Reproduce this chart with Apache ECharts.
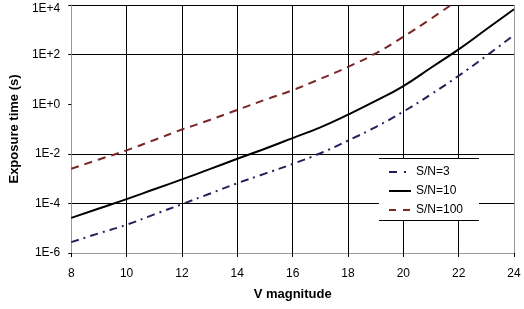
<!DOCTYPE html>
<html>
<head>
<meta charset="utf-8">
<script src="https://cdn.jsdelivr.net/npm/echarts@6/dist/echarts.min.js"></script>
<style>html,body{margin:0;padding:0;background:#fff}#c{width:524px;height:309px}</style>
</head>
<body>
<div id="c"></div>
<script>
const magnitudes = [8, 9, 10, 11, 12, 13, 14, 15, 16, 17, 18, 19, 20, 21, 22, 23, 24];
const sn3 = [2.75e-6, 6.2e-6, 1.38e-5, 3.6e-5, 9.3e-5, 2.45e-4, 6.5e-4, 1.58e-3, 3.9e-3, 1.05e-2, 3.4e-2, 0.12, 0.5, 2.5, 14, 89, 617];
const sn10 = [2.6e-5, 6.2e-5, 1.48e-4, 3.7e-4, 9.3e-4, 2.4e-3, 6.3e-3, 1.6e-2, 4.3e-2, 0.117, 0.38, 1.35, 5.4, 29.5, 162, 1050, 6760];
const sn100 = [2.5e-3, 5.9e-3, 1.38e-2, 3.6e-2, 9.5e-2, 0.23, 0.59, 1.5, 3.7, 10.5, 32, 112, 525, 2800, 16600];
const seriesNames = ['S/N=3', 'S/N=10', 'S/N=100'];
const xTicks = [8, 10, 12, 14, 16, 18, 20, 22, 24];
const yTickLabels = ['1E-6', '1E-4', '1E-2', '1E+0', '1E+2', '1E+4'];

const pairs = (vals) => vals.map((v, i) => [magnitudes[i], v]);
const font = 'Liberation Sans, Arial, sans-serif';
const colors = ['#2b1d5c', '#000000', '#7a2626'];
const dashes = [[8, 5, 2, 5], 'solid', [8, 6]];

const chart = echarts.init(document.getElementById('c'), null, {renderer: 'canvas'});
chart.setOption({
  animation: false,
  backgroundColor: '#fff',
  grid: {left: 66, right: 10, top: 5, bottom: 56, show: false},
  xAxis: {
    type: 'value', min: xTicks[0], max: xTicks[xTicks.length - 1], interval: 2,
    name: 'V magnitude', nameLocation: 'middle', nameGap: 35,
    nameTextStyle: {fontFamily: font, fontSize: 13, fontWeight: 'bold', color: '#000'},
    axisLine: {show: true, lineStyle: {color: '#999', width: 1}},
    axisTick: {show: true, length: 4, lineStyle: {color: '#000'}},
    axisLabel: {fontFamily: font, fontSize: 12, color: '#000', margin: 15},
    splitLine: {show: true, lineStyle: {color: ['rgba(0,0,0,0)', '#000', '#000', '#000', '#000', '#000', '#000', '#000', '#999'], width: 1}}
  },
  yAxis: {
    type: 'log', logBase: 10, min: 1e-6, max: 1e4, interval: 2,
    name: 'Exposure time (s)', nameLocation: 'middle', nameGap: 48, nameRotate: 90,
    nameTextStyle: {fontFamily: font, fontSize: 13, fontWeight: 'bold', color: '#000'},
    axisLine: {show: true, lineStyle: {color: '#999', width: 1}},
    axisTick: {show: true, length: 3, lineStyle: {color: '#000'}},
    axisLabel: {fontFamily: font, fontSize: 12, color: '#000', margin: 11,
      formatter: (v) => {
        const e = Math.round(Math.log10(v));
        const t = yTickLabels[(e + 6) / 2] || '';
        return e === 4 ? '{t|' + t + '}' : t;
      },
      rich: {t: {fontFamily: font, fontSize: 12, color: '#000', padding: [7, 0, 0, 0]}}
    },
    splitLine: {show: true, lineStyle: {color: ['rgba(0,0,0,0)', '#000', '#000', 'rgba(0,0,0,0)', '#000', '#000'], width: 1}}
  },
  legend: {
    show: true, orient: 'vertical', left: 379, top: 166,
    padding: [0, 10, 0, 9], itemGap: 7, itemWidth: 22, itemHeight: 13,
    textStyle: {fontFamily: font, fontSize: 12, color: '#000'},
    itemStyle: {color: 'rgba(0,0,0,0)', borderColor: 'rgba(0,0,0,0)', borderWidth: 0, opacity: 0},
    backgroundColor: 'rgba(0,0,0,0)', z: 20,
    data: [
      {name: seriesNames[0], lineStyle: {type: [8, 7, 2, 20], width: 2, color: colors[0]}},
      {name: seriesNames[1], lineStyle: {type: 'solid', width: 2, color: colors[1]}},
      {name: seriesNames[2], lineStyle: {type: [7, 7], width: 2, color: colors[2]}}
    ]
  },
  graphic: [
    {type: 'rect', shape: {x: 379, y: 158, width: 100, height: 62}, style: {fill: '#fff'}, z: 10},
    {type: 'line', shape: {x1: 379, y1: 158.5, x2: 479, y2: 158.5}, style: {stroke: '#000', lineWidth: 1}, z: 11},
    {type: 'line', shape: {x1: 379, y1: 220.5, x2: 479, y2: 220.5}, style: {stroke: '#000', lineWidth: 1}, z: 11}
  ],
  series: [
    {name: seriesNames[0], type: 'line', data: pairs(sn3), smooth: 0.5, symbol: 'none', clip: true,
      lineStyle: {color: colors[0], width: 2, type: dashes[0]}, itemStyle: {color: colors[0]}},
    {name: seriesNames[1], type: 'line', data: pairs(sn10), smooth: 0.5, symbol: 'none', clip: true,
      lineStyle: {color: colors[1], width: 2, type: dashes[1]}, itemStyle: {color: colors[1]}},
    {name: seriesNames[2], type: 'line', data: pairs(sn100), smooth: 0.5, symbol: 'none', clip: true,
      lineStyle: {color: colors[2], width: 2, type: dashes[2]}, itemStyle: {color: colors[2]}}
  ]
});
</script>
</body>
</html>
